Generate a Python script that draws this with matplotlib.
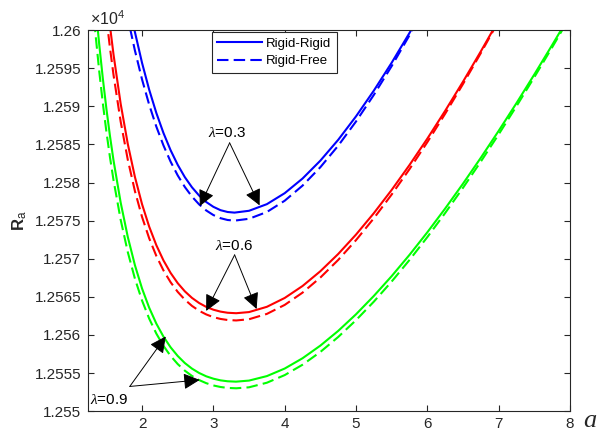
import matplotlib
matplotlib.use("Agg")
import matplotlib.pyplot as plt
from matplotlib.ticker import FuncFormatter, MultipleLocator

plt.rcParams["font.family"] = ["Liberation Sans", "DejaVu Sans"]
plt.rcParams["mathtext.fontset"] = "custom"
plt.rcParams["mathtext.rm"] = "Liberation Sans"
plt.rcParams["mathtext.it"] = "Liberation Serif:italic"
plt.rcParams["mathtext.bf"] = "Liberation Sans:bold"

# lambda = 0.3 (blue)
a_03_rigid = [1.88, 1.9, 2.0, 2.1, 2.2, 2.3, 2.4, 2.5, 2.6, 2.7, 2.8, 2.9, 3.0, 3.1, 3.2, 3.296,
              3.5, 3.75, 4.0, 4.25, 4.5, 4.75, 5.0, 5.25, 5.5, 5.75, 5.8]
ra_03_rigid = [12600.62, 12599.74, 12595.69, 12592.18, 12589.13, 12586.50, 12584.24, 12582.32,
               12580.70, 12579.37, 12578.29, 12577.44, 12576.81, 12576.37, 12576.13, 12576.05,
               12576.29, 12577.16, 12578.60, 12580.52, 12582.87, 12585.60, 12588.68, 12592.06,
               12595.72, 12599.63, 12600.44]
a_03_free = [1.83, 1.9, 2.0, 2.1, 2.2, 2.3, 2.4, 2.5, 2.6, 2.7, 2.8, 2.9, 3.0, 3.1, 3.2, 3.3,
             3.5, 3.75, 4.0, 4.25, 4.5, 4.75, 5.0, 5.25, 5.5, 5.75, 5.82]
ra_03_free = [12600.31, 12597.32, 12593.52, 12590.21, 12587.34, 12584.87, 12582.74, 12580.93,
              12579.41, 12578.15, 12577.13, 12576.33, 12575.73, 12575.32, 12575.08, 12575.0,
              12575.24, 12576.13, 12577.61, 12579.59, 12582.01, 12584.83, 12588.01, 12591.50,
              12595.28, 12599.33, 12600.51]

# lambda = 0.6 (red)
a_06_rigid = [1.55, 1.6, 1.7, 1.8, 1.9, 2.0, 2.1, 2.2, 2.3, 2.4, 2.5, 2.6, 2.7, 2.8, 2.9, 3.0,
              3.1, 3.2, 3.32, 3.5, 3.75, 4.0, 4.25, 4.5, 4.75, 5.0, 5.25, 5.5, 5.75, 6.0, 6.25,
              6.5, 6.75, 6.95]
ra_06_rigid = [12600.55, 12596.79, 12590.34, 12585.06, 12580.73, 12577.15, 12574.21, 12571.78,
               12569.78, 12568.14, 12566.80, 12565.72, 12564.86, 12564.19, 12563.68, 12563.31,
               12563.06, 12562.91, 12562.85, 12563.00, 12563.69, 12564.85, 12566.42, 12568.36,
               12570.62, 12573.17, 12575.98, 12579.03, 12582.30, 12585.76, 12589.41, 12593.23,
               12597.21, 12600.50]
a_06_free = [1.5, 1.55, 1.6, 1.7, 1.8, 1.9, 2.0, 2.1, 2.2, 2.3, 2.4, 2.5, 2.6, 2.7, 2.8, 2.9,
             3.0, 3.1, 3.2, 3.32, 3.5, 3.75, 4.0, 4.25, 4.5, 4.75, 5.0, 5.25, 5.5, 5.75, 6.0,
             6.25, 6.5, 6.75, 6.95]
ra_06_free = [12601.64, 12597.68, 12594.12, 12588.00, 12582.99, 12578.87, 12575.48, 12572.68,
              12570.37, 12568.47, 12566.92, 12565.65, 12564.63, 12563.81, 12563.17, 12562.69,
              12562.33, 12562.10, 12561.96, 12561.90, 12562.06, 12562.76, 12563.94, 12565.55,
              12567.53, 12569.84, 12572.44, 12575.31, 12578.43, 12581.76, 12585.30, 12589.03,
              12592.93, 12596.99, 12600.35]

# lambda = 0.9 (green)
a_09_rigid = [1.37, 1.4, 1.45, 1.5, 1.55, 1.6, 1.7, 1.8, 1.9, 2.0, 2.1, 2.2, 2.3, 2.4, 2.5, 2.6,
              2.7, 2.8, 2.9, 3.0, 3.1, 3.2, 3.317, 3.5, 3.75, 4.0, 4.25, 4.5, 4.75, 5.0, 5.25,
              5.5, 5.75, 6.0, 6.25, 6.5, 6.75, 7.0, 7.25, 7.5, 7.75, 7.9]
ra_09_rigid = [12600.99, 12598.08, 12593.66, 12589.69, 12586.12, 12582.90, 12577.38, 12572.86,
               12569.15, 12566.09, 12563.57, 12561.49, 12559.78, 12558.38, 12557.24, 12556.31,
               12555.58, 12555.01, 12554.57, 12554.26, 12554.04, 12553.92, 12553.87, 12554.01,
               12554.60, 12555.59, 12556.94, 12558.60, 12560.53, 12562.71, 12565.12, 12567.72,
               12570.51, 12573.47, 12576.59, 12579.85, 12583.25, 12586.78, 12590.42, 12594.18,
               12598.04, 12600.40]
a_09_free = [1.33, 1.35, 1.4, 1.45, 1.5, 1.55, 1.6, 1.7, 1.8, 1.9, 2.0, 2.1, 2.2, 2.3, 2.4, 2.5,
             2.6, 2.7, 2.8, 2.9, 3.0, 3.1, 3.2, 3.32, 3.5, 3.75, 4.0, 4.25, 4.5, 4.75, 5.0, 5.25,
             5.5, 5.75, 6.0, 6.25, 6.5, 6.75, 7.0, 7.25, 7.5, 7.75, 7.92]
ra_09_free = [12601.23, 12599.22, 12594.57, 12590.41, 12586.68, 12583.33, 12580.31, 12575.12,
              12570.87, 12567.38, 12564.51, 12562.14, 12560.18, 12558.57, 12557.25, 12556.18,
              12555.31, 12554.62, 12554.08, 12553.67, 12553.37, 12553.17, 12553.05, 12553.00,
              12553.13, 12553.73, 12554.73, 12556.09, 12557.77, 12559.73, 12561.94, 12564.37,
              12567.01, 12569.84, 12572.84, 12576.00, 12579.31, 12582.75, 12586.32, 12590.02,
              12593.83, 12597.74, 12600.46]

x_ticks = [2, 3, 4, 5, 6, 7, 8]

fig, ax = plt.subplots(figsize=(6, 4.36), dpi=100)
fig.subplots_adjust(left=0.147, right=0.95, bottom=0.057, top=0.931)

lw = 1.5
dash = (5.5, 2.5)
ax.plot(a_03_rigid, ra_03_rigid, color="#0000ff", lw=lw, label="Rigid-Rigid")
ax.plot(a_03_free, ra_03_free, color="#0000ff", lw=lw, dashes=dash, label="Rigid-Free")
ax.plot(a_06_rigid, ra_06_rigid, color="#ff0000", lw=lw)
ax.plot(a_06_free, ra_06_free, color="#ff0000", lw=lw, dashes=dash)
ax.plot(a_09_rigid, ra_09_rigid, color="#00ff00", lw=lw)
ax.plot(a_09_free, ra_09_free, color="#00ff00", lw=lw, dashes=dash)

ax.set_xlim(1.245, 8)
ax.set_ylim(12550, 12600)
ax.set_xticks(x_ticks)
ax.yaxis.set_major_locator(MultipleLocator(5))
ax.yaxis.set_major_formatter(FuncFormatter(lambda v, _: f"{v / 1e4:.5f}".rstrip("0").rstrip(".")))

dark = "#262626"
for s in ax.spines.values():
    s.set_color(dark)
    s.set_linewidth(0.8)
ax.tick_params(direction="in", top=True, right=True, length=4, width=0.8,
               colors=dark, labelsize=11)
ax.tick_params(axis="x", pad=4)
ax.tick_params(axis="y", pad=5)

ax.text(0.004, 1.005, r"$\mathregular{\times10^{4}}$", transform=ax.transAxes,
        fontsize=11.5, color=dark, ha="left", va="bottom")
ax.set_ylabel(r"$\mathbf{R}_{\mathregular{a}}$", fontsize=12, color=dark, labelpad=4)
# x label sits at the right end of the axis, like the original
ax.text(590, 15, "a", transform=None, fontsize=19, family="Liberation Serif",
        style="italic", ha="center", va="center", color=dark)

leg = ax.legend(loc="upper left", bbox_to_anchor=(0.256, 0.996), fontsize=9.5,
                handlelength=3.4, fancybox=False, framealpha=1, borderpad=0.45,
                labelspacing=0.4, handletextpad=0.3, borderaxespad=0)
leg.get_frame().set_edgecolor(dark)
leg.get_frame().set_linewidth(0.8)

arrow = dict(arrowstyle="-|>,head_length=0.9,head_width=0.45", color="black",
             lw=0.7, shrinkA=0, shrinkB=0, mutation_scale=11)

# lambda labels with their arrows (text, arrow origin, arrow tips)
labels = [
    ("0.3", (3.20, 12586.5), (3.228, 12585.2), [(2.81, 12576.9), (3.648, 12577.0)]),
    ("0.6", (3.287, 12571.7), (3.298, 12570.5), [(2.899, 12563.15), (3.606, 12563.4)]),
    ("0.9", (1.535, 12551.5), (1.828, 12553.24), [(2.332, 12559.8), (2.808, 12554.1)]),
]
for lam, txt_xy, origin, tips in labels:
    ax.text(*txt_xy, r"$\lambda$=" + lam, fontsize=11, ha="center", va="center")
    for tip in tips:
        ax.annotate("", xy=tip, xytext=origin, arrowprops=arrow)

fig.savefig("out.png", dpi=100)
